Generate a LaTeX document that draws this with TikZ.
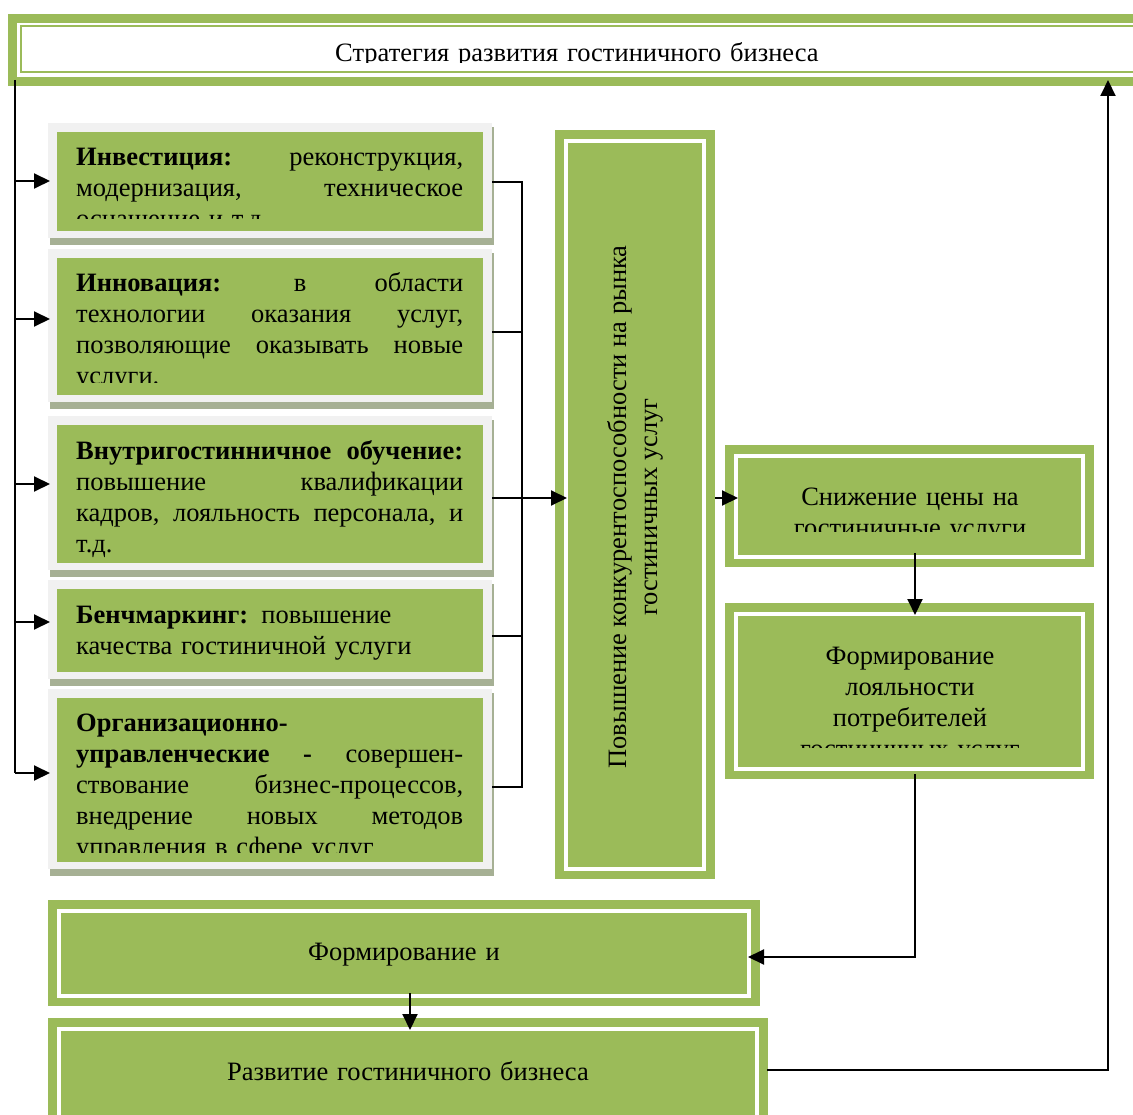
\documentclass[tikz,border=0pt]{standalone}
\usepackage{fontspec}
\setmainfont{Liberation Serif}
\usetikzlibrary{arrows.meta}
\definecolor{boxgreen}{RGB}{155,187,89}
\definecolor{framegray}{RGB}{241,241,241}
\definecolor{shadowc}{RGB}{166,176,148}
\tikzset{
  conn/.style={line width=2pt, black},
  arr/.style={conn, -{Triangle[length=16pt,width=15pt]}},
  txt/.style={font=\fontsize{26.5}{31}\selectfont, inner sep=0pt},
  ltxt/.style={txt, text width=387pt, align=left, anchor=base west},
  ctxt/.style={txt, text width=600pt, align=center, anchor=base},
}
\newcommand\leftpanel[4]{%
  \fill[shadowc] (#1-7,#2-5) rectangle (#3+11,#4+14);
  \fill[framegray] (#1-9,#2-9) rectangle (#3+9,#4+7);
  \fill[boxgreen] (#1,#2) rectangle (#3,#4);
}
\newcommand\dframe[4]{%
  \fill[boxgreen] (#1,#2) rectangle (#3,#4);
  \draw[white, line width=4pt] (#1+11,#2+11) rectangle (#3-11,#4-10);
}
\begin{document}
\begin{tikzpicture}[x=1pt,y=-1pt]
\useasboundingbox (0,0) rectangle (1133,1115);
\clip (0,0) rectangle (1133,1115);
% top box
\fill[boxgreen] (8,14) rectangle (1145,86);
\fill[white] (17.3,22.7) rectangle (1145,76.7);
\draw[boxgreen, line width=2pt] (20.5,26) rectangle (1150,72.5);
\begin{scope}
\clip (22,27) rectangle (1133,63);
\node[ctxt] (title) at (577,62) {Стратегия развития гостиничного бизнеса};
\end{scope}
% left panels
\leftpanel{57}{132}{483}{231}
\leftpanel{57}{258}{483}{395}
\leftpanel{57}{425}{483}{563}
\leftpanel{57}{589}{483}{672}
\leftpanel{57}{698}{483}{862}
\begin{scope}
\clip (57,132) rectangle (483,219);
\node[ltxt] (t1) at (76,166) {\textbf{Инвестиция:} \hfill реконструкция,\\ модернизация, \hfill техническое\\ оснащение и т.д.};
\end{scope}
\begin{scope}
\clip (57,258) rectangle (483,383);
\node[ltxt] (t2) at (76,292) {\textbf{Инновация:} \hfill в \hfill области\\ технологии \hfill оказания \hfill услуг,\\ позволяющие \hfill оказывать \hfill новые\\ услуги.};
\end{scope}
\node[ltxt] (t3) at (76,459) {\textbf{Внутригостинничное \hfill обучение:}\\ повышение \hfill квалификации\\ кадров, \hfill лояльность \hfill персонала, \hfill и\\ т.д.};
\node[ltxt] (t4) at (76,623) {\textbf{Бенчмаркинг:} повышение\\ качества гостиничной услуги};
\begin{scope}
\clip (57,698) rectangle (483,852);
\node[ltxt] (t5) at (76,731) {\textbf{Организационно-}\\ \textbf{управленческие} \hfill \textbf{-} \hfill совершен-\\ ствование \hfill бизнес-процессов,\\ внедрение \hfill новых \hfill методов\\ управления в сфере услуг};
\end{scope}
% middle box
\dframe{555}{130}{715}{879}
\node[txt, align=center, rotate=90] (mid) at (635,507) {Повышение конкурентоспособности на рынка\\ гостиничных услуг};
% right boxes
\dframe{725}{445}{1094}{567}
\begin{scope}
\clip (737,457) rectangle (1082,531);
\node[ctxt] (price) at (910,505) {Снижение цены на\\ гостиничные услуги};
\end{scope}
\dframe{725}{603}{1094}{779}
\begin{scope}
\clip (737,615) rectangle (1082,747);
\node[ctxt] (loyal) at (910,664) {Формирование\\ лояльности\\ потребителей\\ гостиничных услуг};
\end{scope}
% bottom boxes
\dframe{48}{900}{760}{1006}
\node[ctxt] (form) at (404,960) {Формирование и};
\dframe{48}{1018}{768}{1140}
\node[ctxt] (dev) at (408,1080) {Развитие гостиничного бизнеса};
% connector coordinates
\coordinate (sTop) at (15,80);
\coordinate (sBot) at (15,773);
\coordinate (in1) at (50,181);
\coordinate (in2) at (50,319);
\coordinate (in3) at (50,484);
\coordinate (in4) at (50,622);
\coordinate (in5) at (50,773);
\coordinate (r1) at (492,182);
\coordinate (r2) at (492,332);
\coordinate (r3) at (492,498);
\coordinate (r4) at (492,636);
\coordinate (r5) at (492,787);
\coordinate (bus) at (522,182);
\coordinate (midIn) at (567,498);
\coordinate (midOut) at (715,498);
\coordinate (priceIn) at (738,498);
\coordinate (priceOut) at (915,553);
\coordinate (loyalIn) at (915,615);
\coordinate (loyalOut) at (915,774);
\coordinate (formIn) at (748,957);
\coordinate (formOut) at (410,993);
\coordinate (devIn) at (410,1030);
\coordinate (devOut) at (767,1070);
\coordinate (topIn) at (1108,80);
% connectors
\draw[conn] (sTop) -- (sBot);
\draw[arr] (sTop |- in1) -- (in1);
\draw[arr] (sTop |- in2) -- (in2);
\draw[arr] (sTop |- in3) -- (in3);
\draw[arr] (sTop |- in4) -- (in4);
\draw[arr] (sBot) -- (in5);
\draw[conn] (r1) -- (bus) -- (bus |- r5) -- (r5);
\draw[conn] (r2) -- (bus |- r2);
\draw[conn] (r4) -- (bus |- r4);
\draw[arr] (r3) -- (midIn);
\draw[arr] (midOut) -- (priceIn);
\draw[arr] (priceOut) -- (loyalIn);
\draw[arr] (loyalOut) |- (formIn);
\draw[arr] (formOut) -- (devIn);
\draw[arr] (devOut) -| (topIn);
\end{tikzpicture}
\end{document}
